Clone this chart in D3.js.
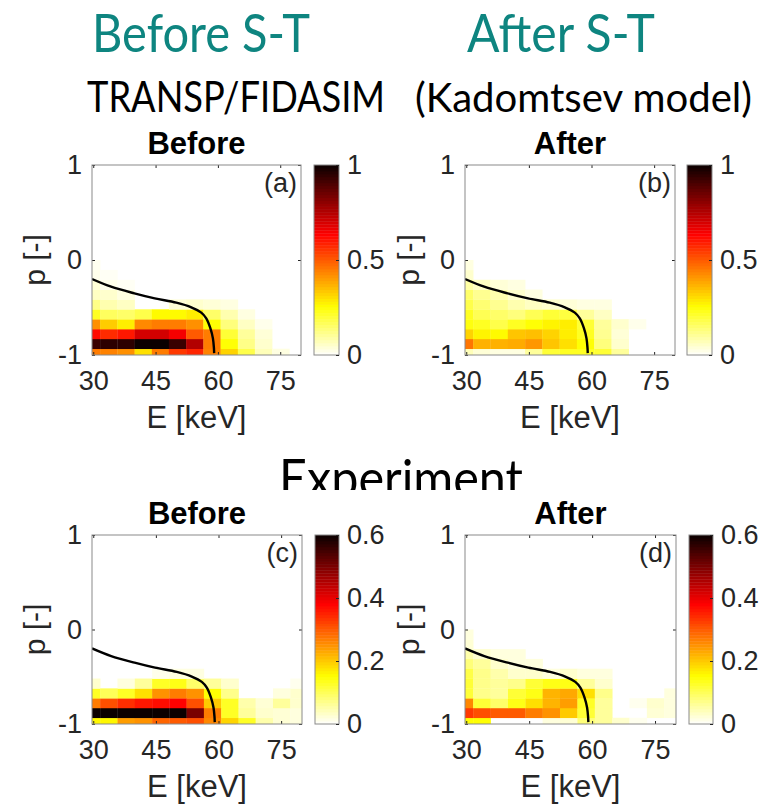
<!DOCTYPE html>
<html>
<head>
<meta charset="utf-8">
<script src="https://cdn.jsdelivr.net/npm/d3@7/dist/d3.min.js"></script>
<style>
  html, body { margin: 0; padding: 0; background: #fff; }
  svg { display: block; }
</style>
</head>
<body>
<script>
// Energy bin edges [keV] and pitch bin edges [-], bottom row first
const eEdges = [27.5, 31.65, 35.8, 39.95, 44.1, 48.2, 52.35, 56.5, 60.65, 64.8, 68.9, 73.05, 77.2, 81.35];
const pEdges = [-1.04, -0.934, -0.830, -0.727, -0.623, -0.519, -0.415, -0.311, -0.208, -0.104, 0.0];

const eTicks = [30, 45, 60, 75];
const pTicks = [-1, 0, 1];
const cbTicksSim = [0, 0.5, 1];
const cbTicksExp = [0, 0.2, 0.4, 0.6];

// Boundary curve (same in all panels)
const curveE = [29.7, 34.3, 39.9, 44.8, 50.0, 53.6, 56.0, 57.2, 58.2, 58.8, 59.05, 59.1];
const curveP = [-0.2, -0.281, -0.351, -0.404, -0.449, -0.498, -0.554, -0.614, -0.72, -0.825, -0.93, -0.98];

// (a) TRANSP/FIDASIM before sawtooth crash, rows from p = -1 upward
const simBefore = [
  [0.45, 0.44, 0.42, 0.30, 0.45, 0.55, 0.58, 0.44, 0.32, 0.18, 0.07, 0.03, 0],
  [0.93, 0.95, 0.95, 1.00, 1.00, 0.93, 0.75, 0.45, 0.25, 0.12, 0.05, 0, 0],
  [0.62, 0.57, 0.60, 0.70, 0.70, 0.65, 0.50, 0.45, 0.20, 0.10, 0.04, 0, 0],
  [0.42, 0.33, 0.28, 0.43, 0.45, 0.45, 0.42, 0.25, 0.13, 0.06, 0.02, 0, 0],
  [0.22, 0.16, 0.15, 0.18, 0.26, 0.26, 0.28, 0.15, 0.08, 0.03, 0, 0, 0],
  [0.12, 0.08, 0.06, 0, 0, 0.04, 0.05, 0.04, 0.03, 0, 0, 0, 0],
  [0.06, 0.05, 0.03, 0, 0, 0, 0, 0, 0, 0, 0, 0, 0],
  [0.04, 0.02, 0.01, 0, 0, 0, 0, 0, 0, 0, 0, 0, 0],
  [0.02, 0.01, 0, 0, 0, 0, 0, 0, 0, 0, 0, 0, 0],
  [0.015, 0, 0, 0, 0, 0, 0, 0, 0, 0, 0, 0, 0]
];

// (b) Kadomtsev model after the crash
const simAfter = [
  [0.07, 0.04, 0.03, 0.03, 0.10, 0.20, 0.22, 0.22, 0.20, 0.10, 0, 0, 0],
  [0.46, 0.37, 0.37, 0.38, 0.41, 0.34, 0.30, 0.25, 0.13, 0.05, 0, 0, 0],
  [0.32, 0.27, 0.26, 0.34, 0.35, 0.32, 0.28, 0.22, 0.11, 0.04, 0, 0, 0],
  [0.24, 0.22, 0.18, 0.22, 0.25, 0.27, 0.28, 0.20, 0.10, 0.05, 0.02, 0, 0],
  [0.22, 0.17, 0.15, 0.13, 0.17, 0.20, 0.19, 0.10, 0.06, 0, 0, 0, 0],
  [0.18, 0.14, 0.11, 0.08, 0.06, 0.05, 0.04, 0.03, 0.03, 0, 0, 0, 0],
  [0.15, 0.11, 0.08, 0.05, 0.03, 0, 0, 0, 0, 0, 0, 0, 0],
  [0.09, 0.06, 0.04, 0.03, 0, 0, 0, 0, 0, 0, 0, 0, 0],
  [0.05, 0, 0, 0, 0, 0, 0, 0, 0, 0, 0, 0, 0],
  [0.03, 0, 0, 0, 0, 0, 0, 0, 0, 0, 0, 0, 0]
];

// (c) measured, before
const expBefore = [
  [0.16, 0.16, 0.24, 0.25, 0.29, 0.30, 0.31, 0.26, 0.19, 0.13, 0.05, 0.025, 0.02],
  [0.60, 0.60, 0.60, 0.60, 0.60, 0.60, 0.50, 0.27, 0.13, 0.06, 0.03, 0.025, 0.02],
  [0.27, 0.31, 0.34, 0.36, 0.37, 0.38, 0.31, 0.20, 0.13, 0.05, 0.025, 0.06, 0.03],
  [0.13, 0.10, 0.13, 0.18, 0.25, 0.27, 0.25, 0.15, 0.07, 0, 0, 0.02, 0.03],
  [0.03, 0, 0.02, 0.06, 0.13, 0.14, 0.09, 0.06, 0.03, 0, 0, 0, 0.01],
  [0, 0, 0, 0, 0.012, 0.018, 0.018, 0, 0, 0, 0, 0, 0],
  [0, 0, 0, 0, 0, 0, 0, 0, 0, 0, 0, 0, 0],
  [0, 0, 0, 0, 0, 0, 0, 0, 0, 0, 0, 0, 0],
  [0, 0, 0, 0, 0, 0, 0, 0, 0, 0, 0, 0, 0],
  [0, 0, 0, 0, 0, 0, 0, 0, 0, 0, 0, 0, 0]
];

// (d) measured, after
const expAfter = [
  [0.15, 0.15, 0, 0, 0, 0.02, 0.025, 0.08, 0.06, 0.03, 0.01, 0, 0],
  [0.33, 0.31, 0.30, 0.30, 0.27, 0.25, 0.20, 0.12, 0.06, 0, 0, 0.025, 0.02],
  [0.26, 0.12, 0.09, 0.14, 0.18, 0.22, 0.24, 0.13, 0.06, 0, 0.01, 0.03, 0.02],
  [0.12, 0.07, 0.06, 0.12, 0.14, 0.22, 0.23, 0.18, 0.07, 0, 0, 0, 0.02],
  [0.12, 0.07, 0.06, 0.07, 0.12, 0.14, 0.14, 0.06, 0.03, 0, 0, 0, 0],
  [0.11, 0.07, 0.05, 0.03, 0.03, 0.02, 0.03, 0.02, 0.02, 0, 0, 0, 0],
  [0.08, 0.06, 0.03, 0.02, 0.02, 0, 0, 0, 0, 0, 0, 0, 0],
  [0.05, 0.03, 0.02, 0.02, 0, 0, 0, 0, 0, 0, 0, 0, 0],
  [0.025, 0, 0, 0, 0, 0, 0, 0, 0, 0, 0, 0, 0],
  [0.02, 0, 0, 0, 0, 0, 0, 0, 0, 0, 0, 0, 0]
];

const W = 761, H = 804;
const teal = "#0e8580";
const axisFont = "'Liberation Sans', Arial, sans-serif";
const slideFont = "Lato, 'Open Sans', sans-serif";

// flipped "hot" colormap: 0 -> white, 1 -> black
function hot(t) {
  t = Math.max(0, Math.min(1, t));
  const r = Math.min(1, (t * 63 + 1) / 24);
  const g = Math.max(0, Math.min(1, (t * 63 + 1 - 24) / 24));
  const b = Math.max(0, Math.min(1, (t * 63 + 1 - 48) / 16));
  return d3.rgb(r * 255, g * 255, b * 255).toString();
}
const hotFlip = f => hot(1 - f);
// plain hyphen for negative tick labels
const fmt = d => String(+(+d).toFixed(1));

const svg = d3.select("body").append("svg")
  .attr("width", W).attr("height", H)
  .attr("viewBox", `0 0 ${W} ${H}`);

// Slide headings, anchored at the end so the fitted text stays on the page
function heading(txt, x0, x1, base, size, color) {
  svg.append("text")
    .attr("x", x1).attr("y", base)
    .attr("text-anchor", "end")
    .attr("textLength", x1 - x0).attr("lengthAdjust", "spacingAndGlyphs")
    .style("font-family", slideFont).style("font-size", size + "px")
    .attr("fill", color).text(txt);
}
heading("Before S-T", 92, 310, 52, 52, teal);
heading("After S-T", 467, 655, 52, 52, teal);
heading("TRANSP/FIDASIM", 87, 385, 112, 42, "#000");
heading("(Kadomtsev model)", 415, 752, 112, 40, "#000");
heading("Experiment", 279, 523, 497, 52, "#000");
// figure background of the lower row hides the bottom of the heading
svg.append("rect").attr("x", 0).attr("y", 490).attr("width", W).attr("height", 40).attr("fill", "#fff");

const panels = [
  { data: simBefore, vmax: 1.0, cbTicks: cbTicksSim, title: "Before", tag: "(a)",
    x0: 92, x1: 301, y0: 165, y1: 355, cb0: 314, cb1: 339, ylabX: 35 },
  { data: simAfter, vmax: 1.0, cbTicks: cbTicksSim, title: "After", tag: "(b)",
    x0: 465, x1: 675, y0: 165, y1: 355, cb0: 687, cb1: 712, ylabX: 409 },
  { data: expBefore, vmax: 0.6, cbTicks: cbTicksExp, title: "Before", tag: "(c)",
    x0: 92, x1: 302, y0: 535, y1: 724, cb0: 315, cb1: 339, ylabX: 35 },
  { data: expAfter, vmax: 0.6, cbTicks: cbTicksExp, title: "After", tag: "(d)",
    x0: 465, x1: 676, y0: 535, y1: 724, cb0: 689, cb1: 713, ylabX: 409 }
];

const frameColor = "#8a8a8a";
const textColor = "#262626";

panels.forEach((P, k) => {
  const x = d3.scaleLinear().domain([29.7, 80]).range([P.x0, P.x1]);
  const y = d3.scaleLinear().domain([-1, 1]).range([P.y1, P.y0]);
  const g = svg.append("g");

  const clipId = "clip" + k;
  svg.append("clipPath").attr("id", clipId).append("rect")
    .attr("x", P.x0).attr("y", P.y0).attr("width", P.x1 - P.x0).attr("height", P.y1 - P.y0);

  g.append("rect").attr("x", P.x0).attr("y", P.y0)
    .attr("width", P.x1 - P.x0).attr("height", P.y1 - P.y0).attr("fill", "#fff");

  // heat map cells
  const cells = [];
  P.data.forEach((row, i) => row.forEach((v, j) => {
    if (v > 0) cells.push({ i, j, v });
  }));
  g.append("g").attr("clip-path", `url(#${clipId})`)
    .selectAll("rect").data(cells).join("rect")
    .attr("x", d => x(eEdges[d.j]))
    .attr("width", d => x(eEdges[d.j + 1]) - x(eEdges[d.j]) + 0.3)
    .attr("y", d => y(pEdges[d.i + 1]))
    .attr("height", d => y(pEdges[d.i]) - y(pEdges[d.i + 1]) + 0.3)
    .attr("fill", d => hotFlip(d.v / P.vmax));

  // boundary curve
  const line = d3.line().x(d => x(d[0])).y(d => y(d[1])).curve(d3.curveCatmullRom.alpha(0.5));
  g.append("path").datum(curveE.map((e, i) => [e, curveP[i]]))
    .attr("clip-path", `url(#${clipId})`)
    .attr("d", line).attr("fill", "none").attr("stroke", "#000").attr("stroke-width", 2.4);

  // axes (ticks point inward)
  const styleAxis = sel => {
    sel.select(".domain").remove();
    sel.selectAll(".tick line").attr("stroke", textColor).attr("stroke-width", 1);
    sel.selectAll("text").attr("fill", textColor)
      .style("font-family", axisFont).style("font-size", "27px");
  };
  g.append("g").attr("transform", `translate(0,${P.y1})`)
    .call(d3.axisBottom(x).tickValues(eTicks).tickFormat(fmt).tickSizeInner(-3).tickSizeOuter(0).tickPadding(16))
    .call(styleAxis);
  g.append("g").attr("transform", `translate(0,${P.y0})`)
    .call(d3.axisTop(x).tickValues(eTicks).tickFormat("").tickSizeInner(-3).tickSizeOuter(0))
    .call(styleAxis);
  g.append("g").attr("transform", `translate(${P.x0},0)`)
    .call(d3.axisLeft(y).tickValues(pTicks).tickFormat(fmt).tickSizeInner(-3).tickSizeOuter(0).tickPadding(10))
    .call(styleAxis);
  g.append("g").attr("transform", `translate(${P.x1},0)`)
    .call(d3.axisRight(y).tickValues(pTicks).tickFormat("").tickSizeInner(-3).tickSizeOuter(0))
    .call(styleAxis);

  g.append("rect").attr("x", P.x0).attr("y", P.y0)
    .attr("width", P.x1 - P.x0).attr("height", P.y1 - P.y0)
    .attr("fill", "none").attr("stroke", frameColor).attr("stroke-width", 1);

  // axis labels
  g.append("text").attr("x", (P.x0 + P.x1) / 2).attr("y", P.y1 + 73)
    .attr("text-anchor", "middle").attr("fill", textColor)
    .style("font-family", axisFont).style("font-size", "31px").text("E [keV]");
  g.append("text").attr("transform", `translate(${P.ylabX + 10},${(P.y0 + P.y1) / 2}) rotate(-90)`)
    .attr("text-anchor", "middle").attr("fill", textColor)
    .style("font-family", axisFont).style("font-size", "30px").text("p [-]");

  // title and panel tag
  g.append("text").attr("x", (P.x0 + P.x1) / 2).attr("y", P.y0 - 11)
    .attr("text-anchor", "middle").attr("fill", "#000")
    .style("font-family", axisFont).style("font-weight", "bold").style("font-size", "31px")
    .text(P.title);
  g.append("text").attr("x", P.x1 - 4).attr("y", P.y0 + 27)
    .attr("text-anchor", "end").attr("fill", textColor)
    .style("font-family", axisFont).style("font-size", "27px").text(P.tag);

  // colour bar
  const cb = d3.scaleLinear().domain([0, P.vmax]).range([P.y1, P.y0]);
  const levels = d3.range(64);
  g.append("g").selectAll("rect").data(levels).join("rect")
    .attr("x", P.cb0).attr("width", P.cb1 - P.cb0)
    .attr("y", d => cb((d + 1) / 64 * P.vmax))
    .attr("height", d => cb(d / 64 * P.vmax) - cb((d + 1) / 64 * P.vmax) + 0.4)
    .attr("fill", d => hotFlip((d + 0.5) / 64));
  g.append("rect").attr("x", P.cb0).attr("y", P.y0)
    .attr("width", P.cb1 - P.cb0).attr("height", P.y1 - P.y0)
    .attr("fill", "none").attr("stroke", frameColor).attr("stroke-width", 1);
  g.append("g").attr("transform", `translate(${P.cb1},0)`)
    .call(d3.axisRight(cb).tickValues(P.cbTicks).tickFormat(fmt).tickSizeInner(-3).tickSizeOuter(0).tickPadding(8))
    .call(styleAxis);
});
</script>
</body>
</html>
